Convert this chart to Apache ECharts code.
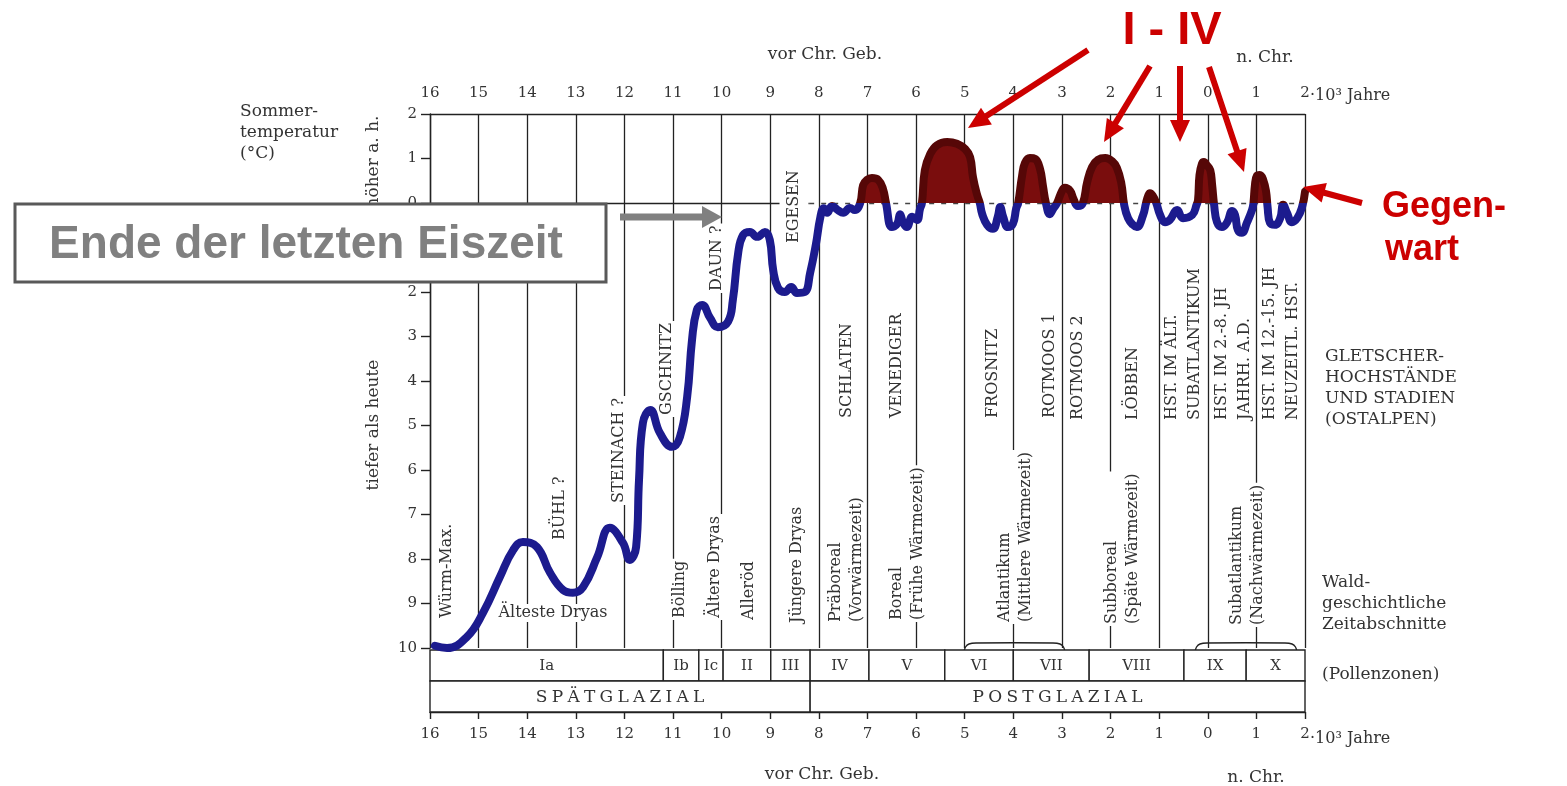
<!DOCTYPE html>
<html><head><meta charset="utf-8">
<script src="https://cdn.jsdelivr.net/npm/echarts@6/dist/echarts.min.js"></script>
<style>html,body{margin:0;padding:0;background:#fff}#c{width:1567px;height:786px}</style>
</head><body><div id="c"></div>
<script>
// ---- data (x: 10^3 years, negative = vor Chr. Geb.; y: deviation of summer temperature in °C vs. today)
const yearsKa = [-15.9,-15.65,-15.24,-14.91,-14.56,-14.29,-14.09,-13.80,-13.53,-13.26,-13.06,-12.85,-12.56,-12.30,-12.03,-11.89,-11.76,-11.70,-11.62,-11.47,-11.27,-11.02,-10.86,-10.71,-10.61,-10.51,-10.40,-10.24,-10.08,-9.87,-9.77,-9.66,-9.56,-9.42,-9.27,-9.11,-9.01,-8.94,-8.84,-8.70,-8.57,-8.45,-8.29,-8.18,-8.06,-7.97,
  -7.90,-7.83,-7.73,-7.61,-7.50,-7.36,-7.26,-7.15,-7.09,-7.01,-6.91,-6.78,-6.68,-6.62,-6.50,-6.39,-6.33,-6.27,-6.19,-6.08,-5.98,-5.92,-5.88,-5.82,-5.71,-5.57,-5.36,-5.16,-4.99,-4.89,-4.83,-4.75,-4.69,-4.64,-4.54,-4.42,-4.32,-4.27,-4.21,-4.11,-4.01,-3.94,-3.90,-3.82,-3.76,-3.66,-3.55,-3.45,-3.39,-3.33,-3.25,-3.18,-3.10,-3.00,-2.94,-2.83,-2.77,-2.67,-2.57,-2.48,-2.38,-2.26,-2.11,-1.97,-1.87,-1.78,-1.72,-1.64,-1.54,-1.46,-1.33,-1.27,-1.22,-1.19,-1.13,-1.06,-0.98,-0.88,-0.78,-0.63,-0.51,-0.32,-0.23,-0.20,-0.17,-0.12,-0.08,-0.02,0.05,0.09,0.13,0.19,0.29,0.40,0.50,0.56,0.62,0.70,0.81,0.91,0.94,0.97,1.01,1.07,1.14,1.20,1.23,1.28,1.38,1.49,1.55,1.63,1.73,1.84,1.94,2.0];
const tempDev = [-9.95,-10.0,-9.75,-9.21,-8.40,-7.80,-7.62,-7.73,-8.31,-8.70,-8.76,-8.63,-7.96,-7.30,-7.64,-8.02,-7.73,-6.22,-4.94,-4.65,-5.17,-5.48,-5.26,-4.36,-3.08,-2.40,-2.29,-2.58,-2.79,-2.67,-2.18,-1.12,-0.72,-0.65,-0.76,-0.65,-0.83,-1.51,-1.91,-2.00,-1.89,-2.02,-2.00,-1.57,-0.92,-0.32,
  -0.12,-0.22,-0.07,-0.16,-0.22,-0.11,-0.16,0.0,0.40,0.52,0.56,0.52,0.31,0.0,-0.54,-0.47,-0.25,-0.43,-0.54,-0.31,-0.38,-0.13,0.0,0.74,1.10,1.30,1.37,1.33,1.21,1.03,0.58,0.20,0.0,-0.25,-0.49,-0.58,-0.31,-0.09,-0.31,-0.54,-0.47,-0.12,0.0,0.61,0.90,1.01,0.99,0.76,0.38,0.0,-0.25,-0.13,0.0,0.27,0.34,0.27,0.11,-0.07,0.0,0.47,0.81,0.97,1.01,0.94,0.79,0.45,-0.04,-0.34,-0.49,-0.54,-0.27,0.0,0.18,0.22,0.16,0.0,-0.27,-0.43,-0.38,-0.16,-0.34,-0.27,-0.04,0.07,0.63,0.88,0.92,0.85,0.74,0.40,-0.04,-0.43,-0.54,-0.43,-0.18,-0.27,-0.61,-0.67,-0.43,-0.16,0.0,0.40,0.61,0.63,0.52,0.25,-0.09,-0.45,-0.49,-0.34,-0.04,-0.22,-0.43,-0.34,-0.09,0.25];
const pollenZones = ['Ia','Ib','Ic','II','III','IV','V','VI','VII','VIII','IX','X'];
const pollenBounds = [-16,-11.2,-10.47,-9.97,-8.99,-8.18,-6.97,-5.41,-4.0,-2.44,-0.49,0.79,2];
const periods = ['SPÄTGLAZIAL','POSTGLAZIAL'];
const periodBounds = [-16,-8.18,2];
const glacierStages = ['BÜHL ?','STEINACH ?','GSCHNITZ','DAUN ?','EGESEN','SCHLATEN','VENEDIGER','FROSNITZ','ROTMOOS 1','ROTMOOS 2','LÖBBEN','HST. IM ÄLT.\nSUBATLANTIKUM','HST. IM 2.-8. JH\nJAHRH. A.D.','HST. IM 12.-15. JH\nNEUZEITL. HST.'];
const forestPeriods = ['Würm-Max.','Bölling','Ältere Dryas','Alleröd','Jüngere Dryas','Präboreal\n(Vorwärmezeit)','Boreal\n(Frühe Wärmezeit)','Atlantikum\n(Mittlere Wärmezeit)','Subboreal\n(Späte Wärmezeit)','Subatlantikum\n(Nachwärmezeit)'];

// ---- layout of annotations (pixels) -------------------------------------
const glacierPos = [[560,540,0],[619,505,1],[667,417,1],[717,293,1],[794,245,1],[847,418,0],[897,418,0],[993,418,0],[1050,418,0],[1078,420,0],[1133,420,0],[1183,420,0],[1233,420,0],[1281,420,0]];
const forestPos = [[447,618,0],[680,620,1],[715,620,1],[749,620,0],[797,623,0],[846,622,0],[907,622,1],[1015,624,1],[1122,626,1],[1247,627,1]];

const BLUE = '#1c1b8e', DRED = '#560707', FILL = '#7a0d0d', INK = '#222', TXT = '#333';
const SERIF = "'DejaVu Serif', 'Liberation Serif', serif";
const curve = yearsKa.map((x, i) => [x, tempDev[i]]);
const absFmt = v => String(Math.abs(v));

const tableData = [], tableLabels = [];
pollenZones.forEach((n, i) => { tableData.push([pollenBounds[i], pollenBounds[i + 1], 1]); tableLabels.push(n); });
periods.forEach((n, i) => { tableData.push([periodBounds[i], periodBounds[i + 1], 0]); tableLabels.push(n.split('').join('\u2005')); });

const lineSt = {color: INK, width: 1.4};
const chart = echarts.init(document.getElementById('c'), null, {renderer: 'canvas'});

function T(x, y, text, o) {
  o = o || {};
  const st = {text: text, font: o.font || ('16px ' + SERIF), fill: o.fill || TXT,
    align: o.align || 'center', verticalAlign: o.va || 'middle'};
  if (o.lh) st.lineHeight = o.lh;
  if (o.bg) { st.backgroundColor = o.bg; st.padding = o.pad || [3, 2]; }
  return {type: 'text', x: x, y: y, rotation: o.rot || 0, z: o.z || 2, silent: true, style: st};
}
function arrow(x1, y1, x2, y2, color, w, hl, hw) {
  const dx = x2 - x1, dy = y2 - y1, L = Math.hypot(dx, dy), ux = dx / L, uy = dy / L, nx = -uy, ny = ux;
  const bx = x2 - ux * hl, by = y2 - uy * hl;
  return [
    {type: 'line', z: 12, silent: true, shape: {x1: x1, y1: y1, x2: bx + ux * 2, y2: by + uy * 2}, style: {stroke: color, lineWidth: w}},
    {type: 'polygon', z: 12, silent: true, shape: {points: [[x2, y2], [bx + nx * hw / 2, by + ny * hw / 2], [bx - nx * hw / 2, by - ny * hw / 2]]}, style: {fill: color}}
  ];
}
function brace(x1, x2, yTop, yEnd) {
  return {type: 'polyline', z: 2, silent: true,
    shape: {points: [[x1, yEnd], [x1 + 1.5, yTop + 4], [x1 + 5, yTop + 1], [x1 + 12, yTop], [x2 - 12, yTop], [x2 - 5, yTop + 1], [x2 - 1.5, yTop + 4], [x2, yEnd]], smooth: 0.3},
    style: {stroke: INK, lineWidth: 1.4, fill: null}};
}

const R = Math.PI / 2;
let graphics = [];
glacierStages.forEach((s, i) => {
  const p = glacierPos[i];
  graphics.push(T(p[0], p[1], s, {rot: R, align: 'left', lh: 23, bg: p[2] ? '#fff' : null}));
});
forestPeriods.forEach((s, i) => {
  const p = forestPos[i];
  graphics.push(T(p[0], p[1], s, {rot: R, align: 'left', lh: 21, bg: p[2] ? '#fff' : null}));
});
graphics.push(T(553, 613, 'Älteste Dryas', {bg: '#fff', pad: [1, 2]}));
// axis titles & side texts
graphics.push(T(240, 101, 'Sommer-\ntemperatur\n(°C)', {align: 'left', va: 'top', lh: 21, font: '17px ' + SERIF}));
graphics.push(T(374, 162, 'höher a. h.', {rot: R, font: '17px ' + SERIF}));
graphics.push(T(374, 425, 'tiefer als heute', {rot: R, font: '17px ' + SERIF}));
graphics.push(T(1325, 346, 'GLETSCHER-\nHOCHSTÄNDE\nUND STADIEN\n(OSTALPEN)', {align: 'left', va: 'top', lh: 21, font: '17px ' + SERIF}));
graphics.push(T(1322, 572, 'Wald-\ngeschichtliche\nZeitabschnitte', {align: 'left', va: 'top', lh: 21, font: '17px ' + SERIF}));
graphics.push(T(1322, 675, '(Pollenzonen)', {align: 'left', font: '17px ' + SERIF}));
graphics.push(T(825, 55, 'vor Chr. Geb.', {font: '17px ' + SERIF}));
graphics.push(T(1265, 58, 'n. Chr.', {font: '17px ' + SERIF}));
graphics.push(T(822, 775, 'vor Chr. Geb.', {font: '17px ' + SERIF}));
graphics.push(T(1256, 778, 'n. Chr.', {font: '17px ' + SERIF}));
graphics.push(T(1310, 96, '·10³ Jahre', {align: 'left', font: '16px ' + SERIF}));
graphics.push(T(1310, 739, '·10³ Jahre', {align: 'left', font: '16px ' + SERIF}));
// braces
graphics.push(brace(964, 1065, 643, 652));
graphics.push(brace(1195, 1297, 643, 652));
// grey box
graphics.push({type: 'rect', z: 10, silent: true, shape: {x: 15, y: 204, width: 591, height: 78}, style: {fill: '#fff', stroke: '#595959', lineWidth: 3}});
graphics.push(T(306, 245, 'Ende der letzten Eiszeit', {z: 11, font: "bold 46px 'Liberation Sans', Arial, sans-serif", fill: '#808080'}));
graphics = graphics.concat(arrow(620, 217, 722, 217, '#808080', 7, 20, 22));
// red annotations
graphics.push(T(1172, 31, 'I - IV', {z: 12, font: "bold 47px 'Liberation Sans', Arial, sans-serif", fill: '#cc0000'}));
graphics.push(T(1382, 207, 'Gegen-', {z: 12, align: 'left', font: "bold 36px 'Liberation Sans', Arial, sans-serif", fill: '#cc0000'}));
graphics.push(T(1385, 250, 'wart', {z: 12, align: 'left', font: "bold 36px 'Liberation Sans', Arial, sans-serif", fill: '#cc0000'}));
[[1088, 50, 968, 128], [1150, 66, 1104, 142], [1180, 66, 1180, 142], [1209, 67, 1244, 172], [1362, 203, 1303, 187]].forEach(a => {
  graphics = graphics.concat(arrow(a[0], a[1], a[2], a[3], '#cc0000', 6, 22, 20));
});

const axisLabelBase = {color: TXT, fontFamily: SERIF, fontSize: 15, formatter: absFmt};

chart.setOption({
  animation: false,
  backgroundColor: '#fff',
  grid: [
    {left: 430, right: 262, top: 114, bottom: 138},
    {left: 430, right: 262, top: 650, bottom: 74},
    {left: 430, right: 262, top: 114, bottom: 583}
  ],
  xAxis: [
    {gridIndex: 0, type: 'value', min: -16, max: 2, interval: 1, position: 'top',
      axisLine: {show: true, onZero: false, lineStyle: lineSt}, axisTick: {show: false},
      axisLabel: Object.assign({margin: 13}, axisLabelBase),
      splitLine: {show: true, showMinLine: true, showMaxLine: true, lineStyle: {color: INK, width: 1.3}}},
    {gridIndex: 1, type: 'value', min: -16, max: 2, interval: 1, position: 'bottom',
      axisLine: {show: true, onZero: false, lineStyle: lineSt},
      axisTick: {show: true, length: 7, lineStyle: lineSt},
      axisLabel: Object.assign({margin: 15}, axisLabelBase), splitLine: {show: false}},
    {gridIndex: 2, type: 'value', min: -16, max: 2, show: false}
  ],
  yAxis: [
    {gridIndex: 0, type: 'value', min: -10, max: 2, interval: 1,
      axisLine: {show: true, onZero: false, lineStyle: lineSt},
      axisTick: {show: true, length: 9, lineStyle: lineSt},
      axisLabel: Object.assign({margin: 13}, axisLabelBase), splitLine: {show: false}},
    {gridIndex: 1, type: 'value', min: 0, max: 2, show: false},
    {gridIndex: 2, type: 'value', min: 0, max: 2, show: false}
  ],
  visualMap: {show: false, type: 'piecewise', seriesIndex: 0, dimension: 1,
    pieces: [{gte: -20, lt: 0, color: BLUE}, {gte: 0, lte: 20, color: DRED}], outOfRange: {color: BLUE}},
  series: [
    {type: 'line', name: 'Sommertemperatur', xAxisIndex: 0, yAxisIndex: 0, data: curve,
      smooth: 0.45, symbol: 'none', z: 3, silent: true,
      lineStyle: {width: 8, cap: 'round', join: 'round'},
      markLine: {silent: true, z: 1, symbol: ['none', 'none'], label: {show: false},
        lineStyle: {color: INK, width: 1.3, type: 'solid'},
        data: [
          [{coord: [-16, 0]}, {coord: [-8.2, 0]}],
          [{coord: [-8.2, 0], lineStyle: {type: [5, 7], color: '#444', width: 1.3}}, {coord: [2, 0]}]
        ]}},
    {type: 'line', name: 'wärmer als heute', xAxisIndex: 2, yAxisIndex: 2, data: curve,
      smooth: 0.45, symbol: 'none', z: 2, clip: true, silent: true,
      lineStyle: {width: 0, opacity: 0}, areaStyle: {color: FILL, opacity: 1, origin: 'start'}},
    {type: 'custom', name: 'Pollenzonen', xAxisIndex: 1, yAxisIndex: 1, data: tableData, silent: true,
      encode: {x: [0, 1], y: 2},
      renderItem: function (params, api) {
        const row = api.value(2);
        const a = api.coord([api.value(0), row + 1]);
        const b = api.coord([api.value(1), row]);
        return {type: 'group', children: [
          {type: 'rect', shape: {x: a[0], y: a[1], width: b[0] - a[0], height: b[1] - a[1]},
            style: {fill: '#fff', stroke: INK, lineWidth: 1.4}},
          {type: 'text', x: (a[0] + b[0]) / 2, y: (a[1] + b[1]) / 2 + 1,
            style: {text: tableLabels[params.dataIndex], align: 'center', verticalAlign: 'middle',
              font: (row === 0 ? '17px ' : '15px ') + SERIF, fill: TXT}}
        ]};
      }}
  ],
  graphic: {elements: graphics}
});
</script></body></html>
